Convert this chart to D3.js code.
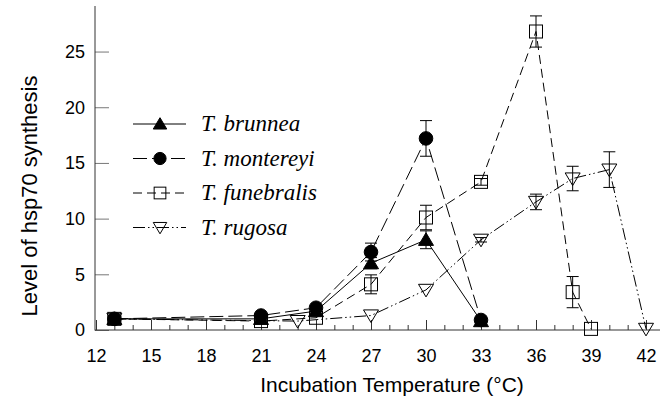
<!DOCTYPE html>
<html>
<head>
<meta charset="utf-8">
<script src="https://cdn.jsdelivr.net/npm/d3@7"></script>
<style>
    body { margin: 0; background: #fff; }
    svg { display: block; }
</style>
</head>
<body>
<div id="chart"></div>
<script>
// data
const brunneaT = [13, 21, 24, 27, 30, 33];
const brunneaV = [1.0, 1.0, 1.7, 6.0, 8.1, 0.8];
const brunneaE = [0, 0, 0, 0.5, 0.8, 0];

const montereyiT = [13, 21, 24, 27, 30, 33];
const montereyiV = [1.0, 1.3, 2.0, 7.0, 17.2, 0.9];
const montereyiE = [0, 0, 0, 0.8, 1.6, 0];

const funebralisT = [13, 21, 24, 27, 30, 33, 36, 38, 39];
const funebralisV = [1.0, 0.8, 1.1, 4.1, 10.1, 13.3, 26.8, 3.4, 0.1];
const funebralisE = [0, 0, 0, 0.85, 1.1, 0.3, 1.4, 1.4, 0];

const rugosaT = [13, 23, 27, 30, 33, 36, 38, 40, 42];
const rugosaV = [1.0, 0.8, 1.3, 3.6, 8.1, 11.5, 13.6, 14.4, 0.1];
const rugosaE = [0, 0, 0, 0, 0.2, 0.7, 1.1, 1.6, 0];

const xMajor = [12, 15, 18, 21, 24, 27, 30, 33, 36, 39, 42];
const yMajor = [0, 5, 10, 15, 20, 25];

const width = 668, height = 409;

const svg = d3.select("#chart")
    .append("svg")
    .attr("width", width)
    .attr("height", height);

const x = d3.scaleLinear().domain([12, 42]).range([96, 646]);
const y = d3.scaleLinear().domain([0, 29]).range([330, 7]);

// axes
const minorX = d3.axisBottom(x)
    .tickValues(d3.range(12, 43))
    .tickSize(-5)
    .tickFormat("");
svg.append("g")
    .attr("transform", "translate(0,330)")
    .call(minorX)
    .call(g => g.select(".domain").remove())
    .call(g => g.selectAll("line").attr("stroke", "#333"));

const majorX = d3.axisBottom(x)
    .tickValues(xMajor)
    .tickSize(-10)
    .tickPadding(19)
    .tickFormat(d3.format("d"));
svg.append("g")
    .attr("transform", "translate(0,330)")
    .call(majorX)
    .call(g => g.select(".domain").remove())
    .call(g => g.selectAll("line").attr("stroke", "#333"))
    .call(g => g.selectAll("text")
        .style("font-family", "Arial, 'Liberation Sans', sans-serif")
        .style("font-size", "18px")
        .attr("fill", "#000"));

const yAxis = d3.axisLeft(y)
    .tickValues(yMajor)
    .tickSize(-14)
    .tickPadding(10)
    .tickFormat(d3.format("d"));
svg.append("g")
    .attr("transform", "translate(95,0)")
    .call(yAxis)
    .call(g => g.select(".domain").remove())
    .call(g => g.selectAll("line").attr("stroke", "#777"))
    .call(g => g.selectAll("text")
        .style("font-family", "Arial, 'Liberation Sans', sans-serif")
        .style("font-size", "18px")
        .attr("fill", "#000"));

svg.append("line")
    .attr("x1", 95).attr("x2", 95)
    .attr("y1", 6).attr("y2", 330.5)
    .attr("stroke", "#333");
svg.append("line")
    .attr("x1", 95).attr("x2", 660)
    .attr("y1", 330).attr("y2", 330)
    .attr("stroke", "#333");

svg.append("text")
    .attr("transform", "translate(37,196) rotate(-90)")
    .attr("text-anchor", "middle")
    .style("font-family", "Arial, 'Liberation Sans', sans-serif")
    .style("font-size", "22px")
    .text("Level of hsp70 synthesis");

svg.append("text")
    .attr("x", 392)
    .attr("y", 392)
    .attr("text-anchor", "middle")
    .style("font-family", "Arial, 'Liberation Sans', sans-serif")
    .style("font-size", "21px")
    .text("Incubation Temperature (°C)");

// series
const series = [
    {name: "T. brunnea", t: brunneaT, v: brunneaV, e: brunneaE, dash: null, shape: "triUp", fill: "#000"},
    {name: "T. montereyi", t: montereyiT, v: montereyiV, e: montereyiE, dash: "14,5", shape: "circle", fill: "#000"},
    {name: "T. funebralis", t: funebralisT, v: funebralisV, e: funebralisE, dash: "9,5", shape: "square", fill: "none"},
    {name: "T. rugosa", t: rugosaT, v: rugosaV, e: rugosaE, dash: "12,3,1.5,3,1.5,3", shape: "triDown", fill: "none"}
];

function marker(g, shape, fill, s) {
    let p;
    if (shape === "circle") {
        p = g.append("circle").attr("r", 6.8 * s);
    } else if (shape === "square") {
        p = g.append("rect")
            .attr("x", -6.5 * s).attr("y", -6.5 * s)
            .attr("width", 13 * s).attr("height", 13 * s);
    } else {
        const h = 7 * s, w = 7.5 * s;
        const pts = shape === "triUp"
            ? [[0, -h], [w, h * 0.8], [-w, h * 0.8]]
            : [[0, h], [w, -h * 0.8], [-w, -h * 0.8]];
        p = g.append("path").attr("d", "M" + pts.join("L") + "Z");
    }
    p.attr("fill", fill).attr("stroke", "#000").attr("stroke-width", 1);
}

const line = d3.line()
    .x(d => x(d[0]))
    .y(d => y(d[1]));

// draw in reverse so filled markers sit on top
series.slice().reverse().forEach(s => {
    const pts = s.t.map((t, i) => [t, s.v[i], s.e[i]]);
    svg.append("path")
        .datum(pts)
        .attr("d", line)
        .attr("fill", "none")
        .attr("stroke", "#000")
        .attr("stroke-width", 1)
        .attr("stroke-dasharray", s.dash);

    const eb = svg.append("g");
    pts.filter(d => d[2] > 0).forEach(d => {
        const cx = x(d[0]), y1 = y(d[1] + d[2]), y2 = y(d[1] - d[2]);
        eb.append("line").attr("x1", cx).attr("x2", cx).attr("y1", y1).attr("y2", y2)
            .attr("stroke", "#000");
        [y1, y2].forEach(yy => eb.append("line")
            .attr("x1", cx - 6).attr("x2", cx + 6).attr("y1", yy).attr("y2", yy)
            .attr("stroke", "#000"));
    });

    pts.forEach(d => {
        const g = svg.append("g").attr("transform", `translate(${x(d[0])},${y(d[1])})`);
        marker(g, s.shape, s.fill, 1);
    });
});

// legend
const legend = svg.append("g");
series.forEach((s, i) => {
    const ly = 124 + i * 34.5;
    legend.append("line")
        .attr("x1", 133).attr("x2", 186)
        .attr("y1", ly).attr("y2", ly)
        .attr("stroke", "#000")
        .attr("stroke-dasharray", s.dash);
    const g = legend.append("g").attr("transform", `translate(160,${ly})`);
    marker(g, s.shape, s.fill, 0.9);
    legend.append("text")
        .attr("x", 201)
        .attr("y", ly + 7)
        .style("font-family", "'Liberation Serif', 'Times New Roman', serif")
        .style("font-style", "italic")
        .style("font-size", "23px")
        .text(s.name);
});
</script>
</body>
</html>
